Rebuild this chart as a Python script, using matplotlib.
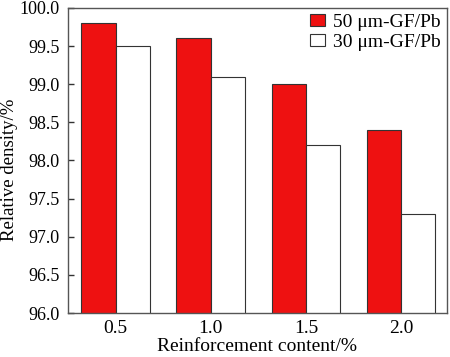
import matplotlib
matplotlib.use("Agg")
import matplotlib.pyplot as plt
import numpy as np

# data
contents = ["0.5", "1.0", "1.5", "2.0"]
density_50 = [99.8, 99.6, 99.0, 98.4]
density_30 = [99.5, 99.1, 98.2, 97.3]
yticks = [96.0, 96.5, 97.0, 97.5, 98.0, 98.5, 99.0, 99.5, 100.0]

plt.rcParams["font.family"] = ["Liberation Serif", "DejaVu Serif"]
plt.rcParams["font.size"] = 14

fig = plt.figure(figsize=(4.5, 3.57), dpi=100)
ax = fig.add_axes([0.151, 0.123, 0.842, 0.855])

x = np.arange(len(contents))
w = 0.36
ax.bar(x - w / 2, density_50, w, bottom=0, color="#ee1111", edgecolor="#333333",
       linewidth=0.8, label="50 μm-GF/Pb")
ax.bar(x + w / 2, density_30, w, bottom=0, color="white", edgecolor="#333333",
       linewidth=0.8, label="30 μm-GF/Pb")

ax.set_xlim(-0.5, 3.48)
ax.set_ylim(96.0, 100.0)
ax.set_xticks(x)
ax.set_xticklabels(contents)
ax.set_yticks(yticks)
ax.set_yticklabels([f"{v:.1f}" for v in yticks])
ax.tick_params(axis="x", length=0, pad=5)
ax.tick_params(axis="y", direction="in", length=4, width=1, color="#333333",
               pad=6, labelsize=13)
for s in ax.spines.values():
    s.set_color("#555555")
    s.set_linewidth(1.0)

ax.set_xlabel("Reinforcement content/%", labelpad=1)
ax.set_ylabel("Relative density/%", fontsize=13.5)
ax.yaxis.set_label_coords(-0.132, 0.47)
ax.legend(loc="upper right", frameon=False, handlelength=0.8, handleheight=0.6,
          handletextpad=0.4, labelspacing=0.15, borderaxespad=0.1, borderpad=0.2)

fig.savefig("out.png", dpi=100)
